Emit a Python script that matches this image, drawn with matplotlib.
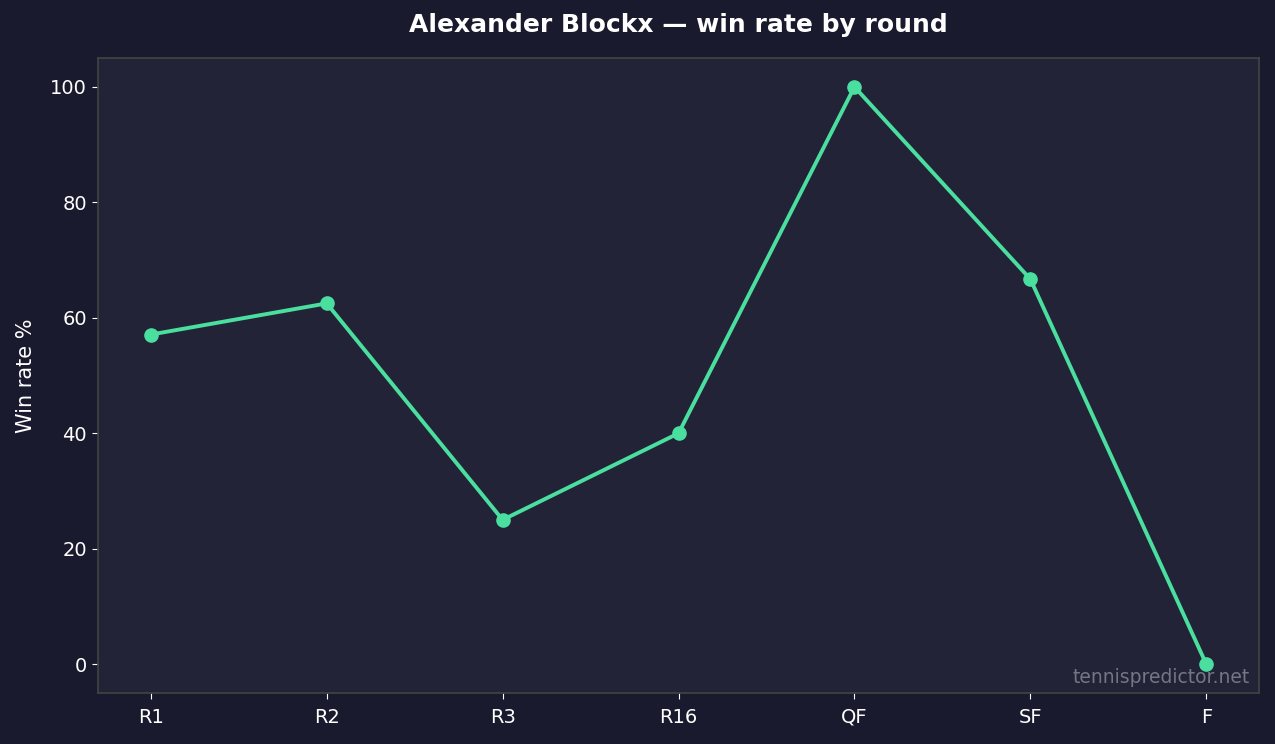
import matplotlib
matplotlib.use('Agg')
import matplotlib.pyplot as plt

plt.rcParams['font.family'] = ['DejaVu Sans']

# Daten
rounds = ['R1', 'R2', 'R3', 'R16', 'QF', 'SF', 'F']
win_rate = [57.1, 62.5, 25.0, 40.0, 100.0, 66.7, 0.0]

bg_fig = '#1a1a2e'
bg_ax = '#232337'
line_col = '#4ade9f'

fig = plt.figure(figsize=(12.75, 7.44), dpi=100, facecolor=bg_fig)
ax = fig.add_axes([0.0769, 0.0685, 0.9106, 0.8535])
ax.set_facecolor(bg_ax)

x = list(range(len(rounds)))
ax.plot(x, win_rate, color=line_col, linewidth=2.8, marker='o', markersize=9.5)

ax.set_xticks(x)
ax.set_xticklabels(rounds)
ax.set_ylim(-5, 105)
ax.set_xlim(-0.3, len(rounds) - 1 + 0.3)

ax.tick_params(colors='white', labelsize=14, length=4.5)
ax.tick_params(axis='x', pad=6)
for spine in ax.spines.values():
    spine.set_color('#444444')
    spine.set_linewidth(1.2)

ax.set_ylabel('Win rate %', color='white', fontsize=15, labelpad=10)

# Titel mittig über der Achse
fig.text(0.0769 + 0.9106 / 2, 1 - 25 / 744, 'Alexander Blockx — win rate by round',
         color='white', fontsize=18, fontweight='bold', ha='center', va='center')

ax.text(0.992, 0.009, 'tennispredictor.net', transform=ax.transAxes,
        ha='right', va='bottom', color='#8a8a99', fontsize=13.5, alpha=0.8)

fig.savefig('out.png', dpi=100, facecolor=bg_fig)
